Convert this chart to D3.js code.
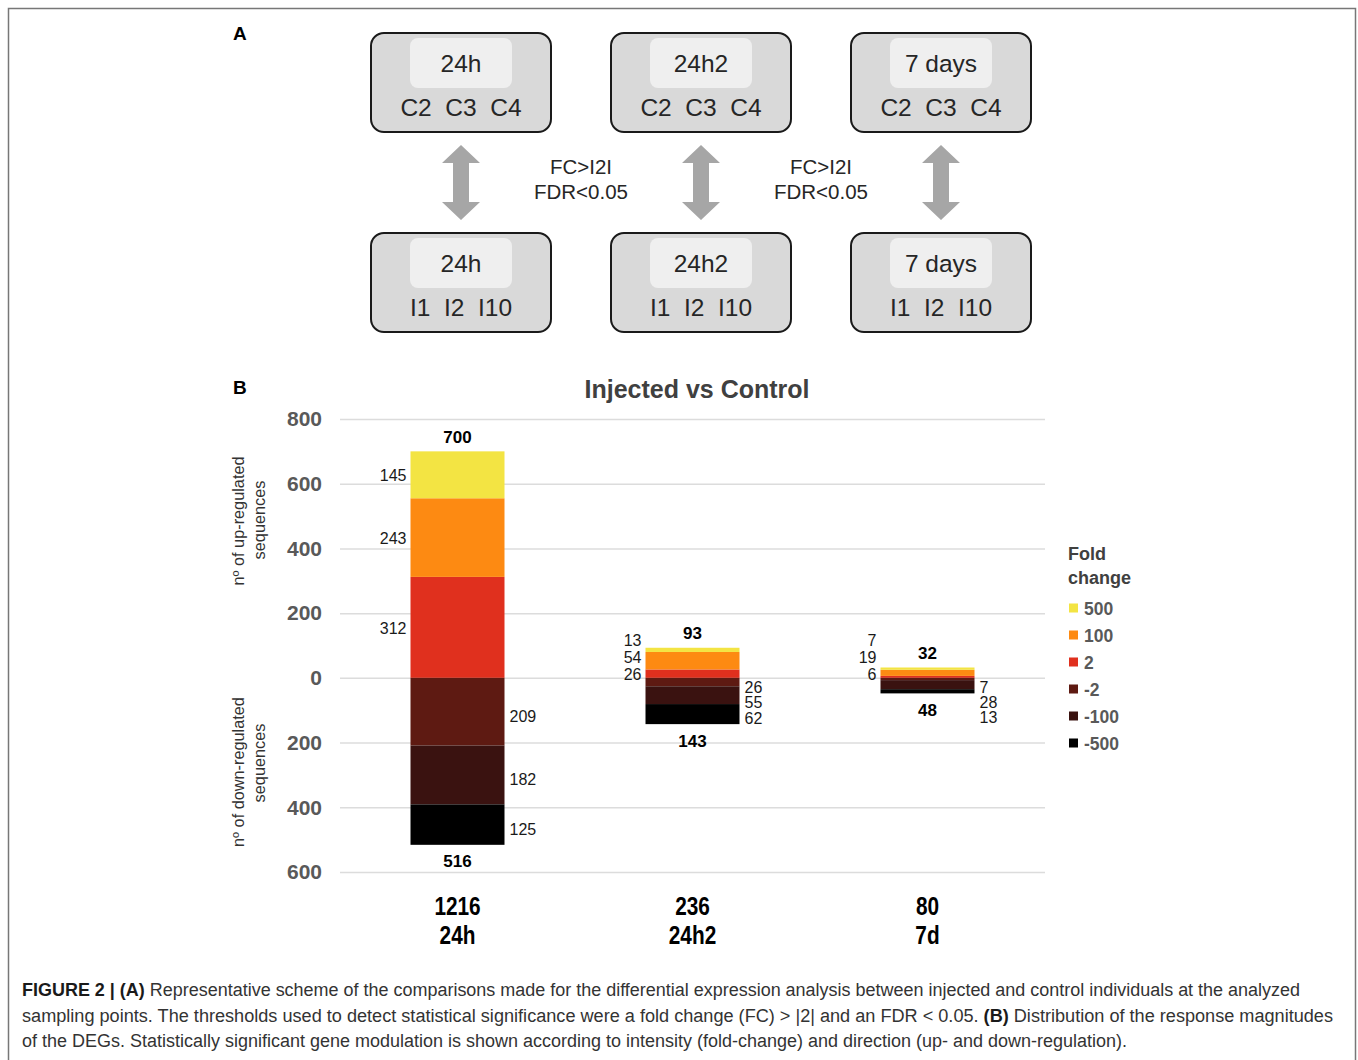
<!DOCTYPE html>
<html>
<head>
<meta charset="utf-8">
<script src="https://cdn.jsdelivr.net/npm/d3@7"></script>
<style>
  body { margin: 0; background: #fff; }
  text { font-family: "Liberation Sans", Arial, sans-serif; }
</style>
</head>
<body>
<div id="chart"></div>
<script>
// ---- panel A: the comparison scheme ----
const timePoints = ["24h", "24h2", "7 days"];
const controlLabel = "C2  C3  C4";
const injectedLabel = "I1  I2  I10";
const thresholdLines = ["FC>I2I", "FDR<0.05"];

// ---- panel B: stacked bars ----
const categories = ["24h", "24h2", "7d"];
const totals = [1216, 236, 80];
const up2 = [312, 26, 6];
const up100 = [243, 54, 19];
const up500 = [145, 13, 7];
const down2 = [209, 26, 7];
const down100 = [182, 55, 28];
const down500 = [125, 62, 13];
const yTicks = [800, 600, 400, 200, 0, -200, -400, -600];
const legendLabels = ["500", "100", "2", "-2", "-100", "-500"];
const legendColors = ["#f3e443", "#fd8a12", "#e0301e", "#5e1a12", "#3a1210", "#000000"];

const captionLines = [
  [["FIGURE 2 | (A)", true], [" Representative scheme of the comparisons made for the differential expression analysis between injected and control individuals at the analyzed", false]],
  [["sampling points. The thresholds used to detect statistical significance were a fold change (FC) > |2| and an FDR < 0.05. ", false], ["(B)", true], [" Distribution of the response magnitudes", false]],
  [["of the DEGs. Statistically significant gene modulation is shown according to intensity (fold-change) and direction (up- and down-regulation).", false]]
];
const captionWidths = [1278, 1311, 1105];

const W = 1358, H = 1060;
const svg = d3.select("#chart").append("svg")
  .attr("width", W).attr("height", H);

// outer frame (open at the bottom)
svg.append("path")
  .attr("d", "M8.5,1060 L8.5,8.5 L1355.5,8.5 L1355.5,1060")
  .attr("fill", "none").attr("stroke", "#777").attr("stroke-width", 1.5);

svg.append("text").attr("x", 233).attr("y", 40)
  .attr("font-size", 19).attr("font-weight", "bold").text("A");
svg.append("text").attr("x", 233).attr("y", 394)
  .attr("font-size", 19).attr("font-weight", "bold").text("B");

// ---- panel A drawing ----
const colX = d3.scalePoint().domain(timePoints).range([461, 941]);

function drawBox(tp, top, label) {
  const cx = colX(tp);
  const g = svg.append("g");
  g.append("rect")
    .attr("x", cx - 90).attr("y", top).attr("width", 180).attr("height", 99)
    .attr("rx", 13).attr("fill", "#d9d9d9").attr("stroke", "#1a1a1a").attr("stroke-width", 2);
  g.append("rect")
    .attr("x", cx - 51).attr("y", top + 5).attr("width", 102).attr("height", 50)
    .attr("rx", 8).attr("fill", "#efefef");
  g.append("text").attr("x", cx).attr("y", top + 33)
    .attr("text-anchor", "middle").attr("dominant-baseline", "middle")
    .attr("font-size", 24.5).attr("fill", "#262626").text(tp);
  g.append("text").attr("x", cx).attr("y", top + 77)
    .attr("text-anchor", "middle").attr("dominant-baseline", "middle")
    .attr("font-size", 24.5).attr("fill", "#262626")
    .style("white-space", "pre").text(label);
}

timePoints.forEach(tp => {
  drawBox(tp, 33, controlLabel);
  drawBox(tp, 233, injectedLabel);
  const cx = colX(tp);
  svg.append("path")
    .attr("d", `M${cx},145 L${cx + 19},163 L${cx + 8},163 L${cx + 8},202 L${cx + 19},202 L${cx},220 L${cx - 19},202 L${cx - 8},202 L${cx - 8},163 L${cx - 19},163 Z`)
    .attr("fill", "#a6a6a6");
});

// threshold text between columns
[0, 1].forEach(i => {
  const mx = (colX(timePoints[i]) + colX(timePoints[i + 1])) / 2;
  thresholdLines.forEach((t, j) => {
    svg.append("text").attr("x", mx).attr("y", 169 + j * 25)
      .attr("text-anchor", "middle").attr("dominant-baseline", "middle")
      .attr("font-size", 20.5).attr("fill", "#262626").text(t);
  });
});

// ---- panel B drawing ----
const x = d3.scaleBand().domain(categories).range([340, 1045])
  .paddingInner(0.6).paddingOuter(0.3);
const y = d3.scaleLinear().domain([-600, 800]).range([872, 419]);

// gridlines
svg.append("g").selectAll("line").data(yTicks).join("line")
  .attr("x1", 340).attr("x2", 1045)
  .attr("y1", d => y(d) + 0.5).attr("y2", d => y(d) + 0.5)
  .attr("stroke", "#dcdcdc").attr("stroke-width", 1.5);

// y axis labels (absolute values)
const yAxis = svg.append("g").attr("transform", "translate(328,0)")
  .call(d3.axisLeft(y).tickValues(yTicks).tickFormat(d => Math.abs(d)).tickSize(0).tickPadding(6));
yAxis.select(".domain").remove();
yAxis.selectAll("text")
  .attr("font-size", 21).attr("font-weight", "bold").attr("fill", "#595959")
  .attr("font-family", "'Liberation Sans', Arial, sans-serif");

// stacked data
const keys = ["2", "100", "500", "-2", "-100", "-500"];
const rows = categories.map((c, i) => ({
  cat: c,
  "2": up2[i], "100": up100[i], "500": up500[i],
  "-2": -down2[i], "-100": -down100[i], "-500": -down500[i]
}));
const stack = d3.stack().keys(keys).offset(d3.stackOffsetDiverging)(rows);
const color = d3.scaleOrdinal().domain(legendLabels).range(legendColors);

svg.append("g").selectAll("g").data(stack).join("g")
  .attr("fill", s => color(s.key))
  .selectAll("rect").data(s => s).join("rect")
  .attr("x", d => x(d.data.cat))
  .attr("width", x.bandwidth())
  .attr("y", d => y(Math.max(d[0], d[1])))
  .attr("height", d => Math.abs(y(d[0]) - y(d[1])));

// segment labels: up on the left, down on the right, pushed apart when crowded
const y0 = y(0);
categories.forEach((c, i) => {
  const left = x(c) - 4, right = x(c) + x.bandwidth() + 5;
  let cap = y0 - 2;
  ["2", "100", "500"].forEach(k => {
    const seg = stack.find(s => s.key === k)[i];
    const yy = Math.min(y((seg[0] + seg[1]) / 2) + 2, cap);
    cap = yy - 17;
    svg.append("text").attr("x", left).attr("y", yy)
      .attr("text-anchor", "end").attr("dominant-baseline", "middle")
      .attr("font-size", 16).attr("fill", "#1a1a1a").text(Math.abs(seg[1] - seg[0]));
  });
  let floor = y0 + 11;
  ["-2", "-100", "-500"].forEach(k => {
    const seg = stack.find(s => s.key === k)[i];
    const yy = Math.max(y((seg[0] + seg[1]) / 2) + 6, floor);
    floor = yy + 15;
    svg.append("text").attr("x", right).attr("y", yy)
      .attr("text-anchor", "start").attr("dominant-baseline", "middle")
      .attr("font-size", 16).attr("fill", "#1a1a1a").text(Math.abs(seg[1] - seg[0]));
  });
  const upTotal = up2[i] + up100[i] + up500[i];
  const downTotal = down2[i] + down100[i] + down500[i];
  const cx = x(c) + x.bandwidth() / 2;
  svg.append("text").attr("x", cx).attr("y", y(upTotal) - 13)
    .attr("text-anchor", "middle").attr("dominant-baseline", "middle")
    .attr("font-size", 17).attr("font-weight", "bold").text(upTotal);
  svg.append("text").attr("x", cx).attr("y", y(-downTotal) + 18)
    .attr("text-anchor", "middle").attr("dominant-baseline", "middle")
    .attr("font-size", 17).attr("font-weight", "bold").text(downTotal);

  // category labels under the chart (narrowed bold)
  [[totals[i], 908], [c, 937]].forEach(([t, ty]) => {
    svg.append("text")
      .attr("transform", `translate(${cx},${ty}) scale(0.8,1)`)
      .attr("text-anchor", "middle").attr("dominant-baseline", "middle")
      .attr("font-size", 26).attr("font-weight", "bold").text(t);
  });
});

// chart title
svg.append("text").attr("x", 697).attr("y", 391)
  .attr("text-anchor", "middle").attr("dominant-baseline", "middle")
  .attr("font-size", 25).attr("font-weight", "bold").attr("fill", "#404040")
  .text("Injected vs Control");

// y axis titles
function yTitle(lines, cy) {
  lines.forEach((t, j) => {
    svg.append("text")
      .attr("transform", `translate(${240 + j * 21},${cy[j]}) rotate(-90)`)
      .attr("text-anchor", "middle").attr("dominant-baseline", "middle")
      .attr("font-size", 16.3).attr("fill", "#333").text(t);
  });
}
yTitle(["nº of up-regulated", "sequences"], [521, 520]);
yTitle(["nº of down-regulated", "sequences"], [772, 763]);

// legend
svg.append("text").attr("x", 1068).attr("y", 555)
  .attr("dominant-baseline", "middle").attr("font-size", 18)
  .attr("font-weight", "bold").attr("fill", "#404040").text("Fold");
svg.append("text").attr("x", 1068).attr("y", 579)
  .attr("dominant-baseline", "middle").attr("font-size", 18)
  .attr("font-weight", "bold").attr("fill", "#404040").text("change");
const lg = svg.append("g").selectAll("g").data(legendLabels).join("g")
  .attr("transform", (d, i) => `translate(1069,${608 + i * 27})`);
lg.append("rect").attr("x", 0).attr("y", -4.5).attr("width", 9).attr("height", 9)
  .attr("fill", d => color(d));
lg.append("text").attr("x", 15).attr("y", 2)
  .attr("dominant-baseline", "middle").attr("font-size", 17.5)
  .attr("font-weight", "bold").attr("fill", "#595959").text(d => d);

// caption
captionLines.forEach((parts, i) => {
  const t = svg.append("text").attr("x", 22).attr("y", 996 + i * 25.5)
    .attr("font-size", 18).attr("fill", "#333")
    .attr("textLength", captionWidths[i]).attr("lengthAdjust", "spacingAndGlyphs")
    .style("white-space", "pre");
  parts.forEach(([s, b]) => {
    t.append("tspan").attr("font-weight", b ? "bold" : "normal")
      .attr("fill", b ? "#1a1a1a" : "#333").text(s);
  });
});
</script>
</body>
</html>
